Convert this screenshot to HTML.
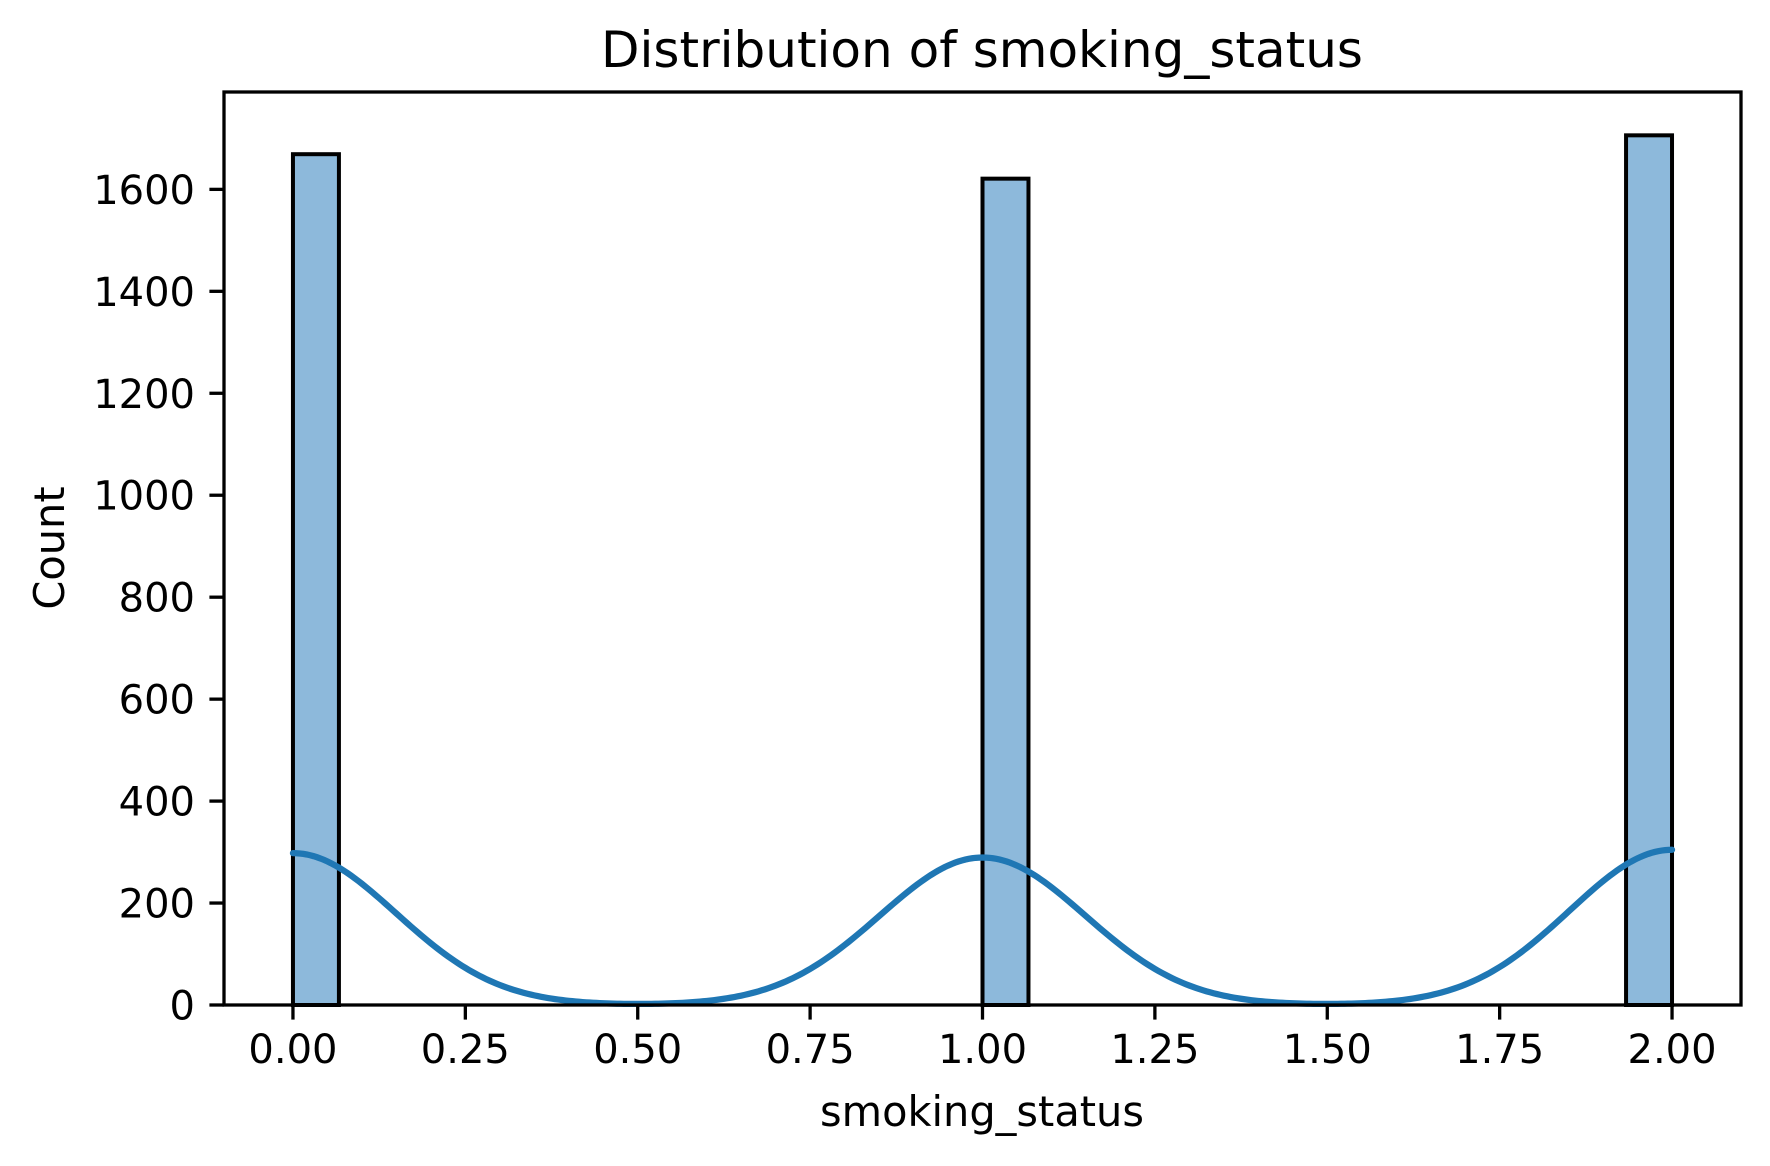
<!DOCTYPE html>
<html><head><meta charset="utf-8"><style>
html,body{margin:0;padding:0;background:#fff;}
svg{display:block;font-family:"DejaVu Sans","Liberation Sans",sans-serif;}
</style></head><body>
<svg id="chart" width="1770" height="1166" viewBox="0 0 1770 1166">
<text x="982" y="67" text-anchor="middle" font-size="50">Distribution of smoking_status</text>
<g id="bars"></g>
<g id="kde"></g>
<g id="axes"></g>
<text x="982" y="1126" text-anchor="middle" font-size="41.5">smoking_status</text>
<text transform="translate(64,548) rotate(-90)" text-anchor="middle" font-size="41.5">Count</text>
</svg>
<script>
const binStarts = [0, 1.0, 1.9333];
const binCounts = [1669, 1621, 1706];
const dataPoints = [0, 1, 2];
const xTicks = [0, 0.25, 0.5, 0.75, 1.0, 1.25, 1.5, 1.75, 2.0];
const xTickLabels = ["0.00","0.25","0.50","0.75","1.00","1.25","1.50","1.75","2.00"];
const yTicks = [0, 200, 400, 600, 800, 1000, 1200, 1400, 1600];
const binWidth = 2/30;
const bandwidth = 0.149;

const L=224,R=1741,T=92,B=1005;
const xmin=-0.1,xmax=2.1,ymax=1791;
const sx=v=>L+(v-xmin)/(xmax-xmin)*(R-L);
const sy=v=>B-v/ymax*(B-T);
const NS="http://www.w3.org/2000/svg";
function mk(tag,attrs,parent){const e=document.createElementNS(NS,tag);for(const k in attrs)e.setAttribute(k,attrs[k]);parent.appendChild(e);return e;}

const bars=document.getElementById('bars');
binStarts.forEach((s,i)=>{
  const r=mk('rect',{x:sx(s),y:sy(binCounts[i]),width:sx(s+binWidth)-sx(s),height:B-sy(binCounts[i]),fill:'#8db9db',stroke:'#000','stroke-width':4},bars);
  
  
});

const kdeG=document.getElementById('kde');
let d='';
for(let k=0;k<=400;k++){
  const x=2*k/400;
  let v=0;
  dataPoints.forEach((p,i)=>{v+=binCounts[i]*binWidth*Math.exp(-((x-p)**2)/(2*bandwidth*bandwidth))/(bandwidth*Math.sqrt(2*Math.PI));});
  d+=(k?'L':'M')+sx(x).toFixed(2)+','+sy(v).toFixed(2);
}
const kp=mk('path',{d:d,fill:'none',stroke:'#1f77b4','stroke-width':6.25,'stroke-linecap':'round'},kdeG);



const ax=document.getElementById('axes');
const frame=mk('rect',{x:L,y:T,width:R-L,height:B-T,fill:'none',stroke:'#000','stroke-width':3.3},ax);


xTicks.forEach((t,i)=>{
  const x=sx(t);
  const tl=mk('line',{x1:x,x2:x,y1:B,y2:B+14.6,stroke:'#000','stroke-width':3.3},ax);
  
  
  const tx=mk('text',{x:x,y:1063,'text-anchor':'middle','font-size':40},ax);
  tx.textContent=xTickLabels[i];
  
  
});
yTicks.forEach(t=>{
  const y=sy(t);
  const tl=mk('line',{x1:L-14.6,x2:L,y1:y,y2:y,stroke:'#000','stroke-width':3.3},ax);
  
  
  const tx=mk('text',{x:195,y:y+14.5,'text-anchor':'end','font-size':40},ax);
  tx.textContent=String(t);
  
  
});
</script>
</body></html>
